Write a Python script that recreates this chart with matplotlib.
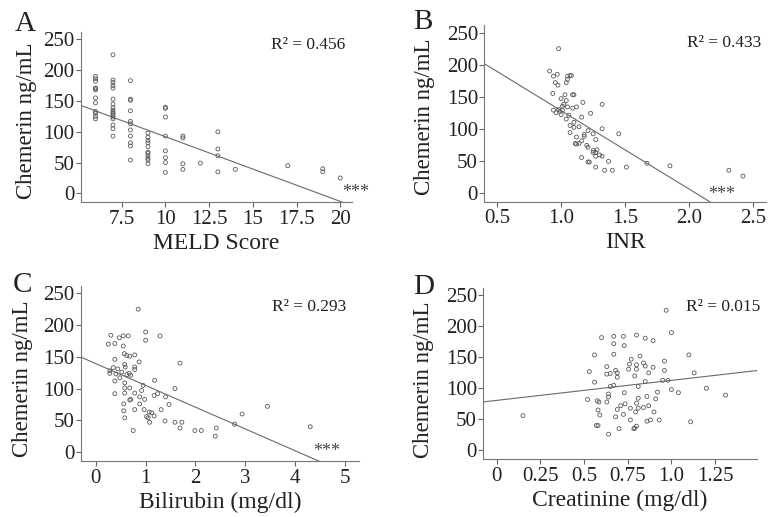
import numpy as np
import matplotlib
matplotlib.use("Agg")
from matplotlib import pyplot as plt

plt.rcParams['font.family'] = ['Liberation Serif', 'DejaVu Serif']

# panel A - MELD score
meld_x = [6]*12 + [7]*17 + [8]*11 + [9]*11 + [10]*8 + [11]*4 + [12] + [13]*4 + [14, 17, 19, 19, 20]
meld_y = [190, 186, 182, 171, 170, 168, 155, 147, 133, 130, 125, 121,
          225, 184, 180, 175, 171, 153, 145, 139, 135, 132, 130, 127, 124, 121, 111, 105, 93,
          183, 153, 151, 134, 117, 113, 103, 93, 82, 77, 54,
          98, 91, 86, 82, 76, 67, 65, 61, 57, 54, 48,
          140, 138, 124, 93, 69, 58, 50, 34,
          93, 90, 48, 39,
          49,
          100, 72, 61, 35,
          39, 45, 40, 35, 25]

# panel B - INR
inr_x = [0.98, 0.91, 0.94, 0.97, 0.955, 0.975, 1.05, 1.07, 1.08, 1.05, 1.04, 0.935,
         1.00, 1.03, 1.04, 1.09, 1.10, 1.17, 1.32, 1.01, 1.02, 1.05, 1.09, 1.12,
         0.94, 0.96, 0.98, 0.99, 1.00, 1.01, 1.04, 1.06, 1.16, 1.23, 1.07, 1.10,
         1.14, 1.10, 1.32, 1.45, 1.07, 1.21, 1.25, 1.18, 1.18, 1.12, 1.27, 1.16,
         1.11, 1.12, 1.14, 1.20, 1.21, 1.25, 1.27, 1.28, 1.25, 1.27, 1.30, 1.32,
         1.16, 1.21, 1.22, 1.37, 1.27, 1.34, 1.40, 1.51, 1.67, 1.85, 2.31, 2.42]
inr_y = [225, 190, 182, 185, 172, 168, 182, 183, 183, 177, 172, 155,
         147, 153, 144, 153, 153, 141, 138, 135, 138, 134, 132, 134,
         129, 125, 130, 127, 122, 129, 115, 121, 118, 124, 105, 110,
         103, 102, 100, 92, 94, 97, 92, 91, 88, 87, 83, 81,
         77, 76, 77, 74, 71, 66, 63, 67, 63, 57, 59, 57,
         55, 48, 48, 49, 40, 35, 35, 40, 46, 42, 35, 26]

# panel C - bilirubin
bili_x = [0.85, 0.30, 0.47, 0.55, 0.65, 1.00, 1.00, 1.29, 0.25, 0.38, 0.55, 0.57,
          0.62, 0.68, 0.78, 0.87, 1.69, 0.38, 0.35, 0.44, 0.58, 0.59, 0.78, 0.78,
          0.28, 0.28, 0.40, 0.52, 0.62, 0.67, 0.70, 0.48, 0.38, 0.58, 1.18, 0.95,
          0.92, 0.58, 0.68, 1.59, 0.38, 0.58, 0.78, 1.17, 1.24, 1.40, 0.88, 0.68,
          0.70, 0.98, 0.56, 0.88, 1.47, 1.31, 0.56, 0.78, 0.97, 1.07, 1.12, 1.17,
          1.02, 1.05, 0.58, 1.08, 1.39, 1.59, 1.73, 1.69, 2.94, 3.45, 2.79, 1.99,
          2.12, 2.42, 0.75, 2.40, 4.31]
bili_y = [225, 184, 180, 183, 183, 189, 176, 183, 170, 171, 167, 155,
          152, 151, 153, 142, 140, 146, 133, 131, 138, 134, 134, 130,
          128, 124, 123, 126, 122, 124, 121, 117, 112, 109, 113, 105,
          97, 101, 101, 100, 92, 93, 93, 89, 92, 87, 87, 82,
          83, 83, 76, 76, 75, 67, 65, 67, 67, 63, 62, 57,
          56, 54, 54, 47, 49, 47, 47, 38, 60, 72, 44, 34,
          34, 38, 34, 25, 40]

# panel D - creatinine
creat_x = [0.97, 1.00, 0.60, 0.67, 0.725, 0.80, 0.85, 0.895, 0.67, 0.73, 0.56, 0.67,
           0.77, 0.82, 1.10, 0.96, 0.63, 0.76, 0.80, 0.84, 0.85, 0.895, 0.68, 0.755,
           0.80, 0.96, 0.53, 0.63, 0.65, 0.69, 0.87, 1.13, 0.69, 0.79, 0.56, 0.85,
           0.95, 0.98, 0.67, 0.65, 0.81, 1.00, 1.04, 1.20, 1.31, 0.92, 0.73, 0.64,
           0.64, 0.81, 0.86, 0.91, 0.52, 0.575, 0.585, 0.63, 0.735, 0.80, 0.71, 0.69,
           0.765, 0.81, 0.84, 0.87, 0.90, 0.795, 0.58, 0.59, 0.725, 0.68, 0.765, 0.86,
           0.88, 0.93, 1.11, 0.15, 0.57, 0.58, 0.70, 0.80, 0.79, 0.785, 0.64]
creat_y = [226, 190, 182, 184, 184, 186, 181, 177, 172, 169, 154, 155,
           147, 152, 154, 144, 135, 139, 138, 141, 136, 134, 129, 131,
           131, 129, 127, 123, 124, 125, 125, 125, 118, 120, 110, 111,
           113, 113, 105, 103, 103, 98, 93, 100, 89, 94, 93, 91,
           86, 84, 87, 83, 82, 80, 78, 78, 75, 76, 72, 66,
           68, 68, 69, 72, 62, 62, 65, 57, 58, 54, 49, 47,
           49, 49, 46, 56, 40, 40, 35, 39, 36, 35, 26]

# fitted lines (intercept, slope) and R squared text
fits = [(197.0, -10.5), (250.6, -122.5), (139.2, -34.2), (80.6, 32.3)]
r2_text = ["0.456", "0.433", "0.293", "0.015"]
letters = ["A", "B", "C", "D"]
xlabels = ["MELD Score", "INR", "Bilirubin (mg/dl)", "Creatinine (mg/dl)"]
xticks = [[7.5, 10, 12.5, 15, 17.5, 20], [0.5, 1.0, 1.5, 2.0, 2.5],
          [0, 1, 2, 3, 4, 5], [0, 0.25, 0.5, 0.75, 1.0, 1.25]]
xticklabels = [["7.5", "10", "12.5", "15", "17.5", "20"],
               ["0.5", "1.0", "1.5", "2.0", "2.5"],
               ["0", "1", "2", "3", "4", "5"],
               ["0", "0.25", "0.5", "0.75", "1.0", "1.25"]]
yticks = [0, 50, 100, 150, 200, 250]
xlims = [(5.17, 20.67), (0.40, 2.60), (-0.30, 5.29), (-0.077, 1.488)]
stars = [True, True, True, False]

data = [(meld_x, meld_y), (inr_x, inr_y), (bili_x, bili_y), (creat_x, creat_y)]

# layout (pixel-based positions)
positions = [[0.1041, 0.6093, 0.3483, 0.3288],
             [0.6225, 0.6099, 0.3621, 0.3418],
             [0.1041, 0.1083, 0.3573, 0.3391],
             [0.6212, 0.1122, 0.3514, 0.3308]]
r2_pos = [(0.703, 0.924), (0.718, 0.896), (0.686, 0.880), (0.741, 0.891)]
star_pos = [(0.962, 0.053), (0.794, 0.042), (0.836, 0.053), None]
letter_pos = [(0.019, 0.9406), (0.531, 0.9439), (0.017, 0.4350), (0.531, 0.4320)]
ylabel_x = [-0.163, -0.175, -0.173, -0.180]
ylabel_y = [0.48, 0.48, 0.47, 0.465]

fig = plt.figure(figsize=(7.78, 5.17), dpi=100)

for i in range(4):
    ax = fig.add_axes(positions[i])
    x, y = data[i]
    ax.scatter(x, y, s=8, facecolors='none', edgecolors='#5a5a5a', linewidths=0.6, zorder=3)
    ax.set_xlim(xlims[i])
    ax.set_ylim(-14, 262)
    xs = np.array(xlims[i])
    b, m = fits[i]
    ax.plot(xs, b + m * xs, color='#6a6a6a', lw=0.8, zorder=2)

    ax.set_xticks(xticks[i])
    ax.set_xticklabels(xticklabels[i])
    ax.set_yticks(yticks)
    ax.tick_params(axis='both', labelsize=15, length=3.5, width=0.8, color='#666666',
                   labelcolor='#222222', direction='out')
    ax.tick_params(axis='y', pad=1)
    ax.tick_params(axis='x', pad=2)
    for s in ['top', 'right']:
        ax.spines[s].set_visible(False)
    for s in ['left', 'bottom']:
        ax.spines[s].set_color('#777777')
        ax.spines[s].set_linewidth(0.8)

    ax.set_xlabel(xlabels[i], fontsize=17, color='#222222', labelpad=3)
    ax.set_ylabel("Chemerin ng/mL", fontsize=16.5, color='#222222')
    ax.yaxis.set_label_coords(ylabel_x[i], ylabel_y[i])

    ax.text(r2_pos[i][0], r2_pos[i][1], "R\u00b2 = " + r2_text[i], transform=ax.transAxes,
            fontsize=12.5, color='#222222', ha='left', va='center')
    if stars[i]:
        ax.text(star_pos[i][0], star_pos[i][1], "***", transform=ax.transAxes,
                fontsize=13, color='#444444', ha='left', va='center', clip_on=False)

    fig.text(letter_pos[i][0], letter_pos[i][1], letters[i], fontsize=21,
             color='#222222', va='baseline', ha='left')

plt.savefig('out.png', dpi=100)
